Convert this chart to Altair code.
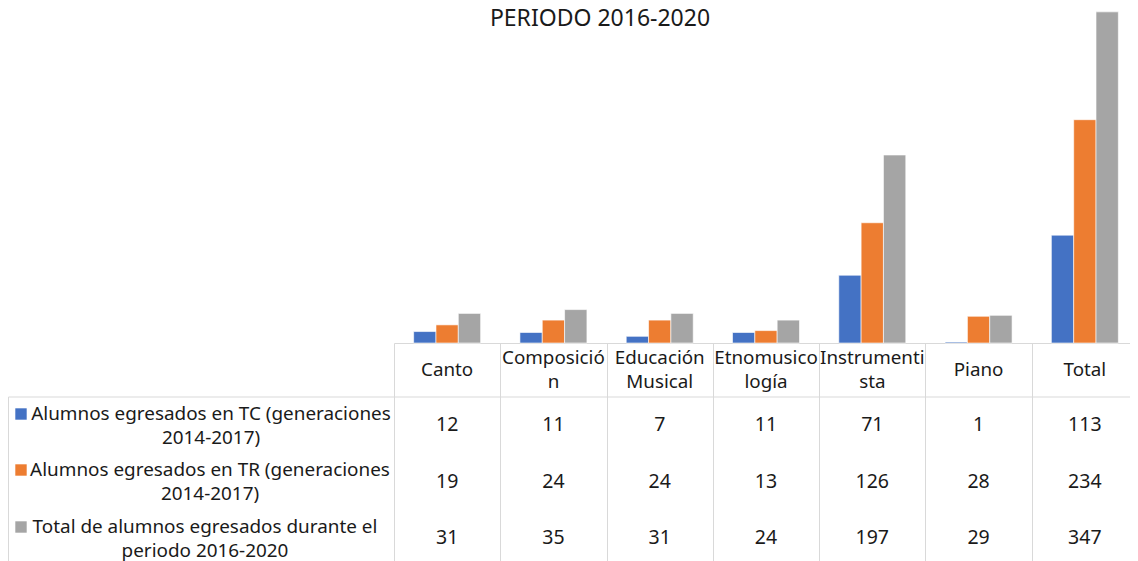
import altair as alt
import pandas as pd

categories = ["Canto", "Composición", "Educación Musical", "Etnomusicología",
              "Instrumentista", "Piano", "Total"]
header_labels = ["Canto", "Composició\nn", "Educación\nMusical", "Etnomusico\nlogía",
                 "Instrumenti\nsta", "Piano", "Total"]
series_names = [
    "Alumnos egresados en TC (generaciones 2014-2017)",
    "Alumnos egresados en TR (generaciones 2014-2017)",
    "Total de alumnos egresados durante el periodo 2016-2020",
]
legend_labels = [
    "Alumnos egresados en TC (generaciones\n2014-2017)",
    "Alumnos egresados en TR (generaciones\n2014-2017)",
    "Total de alumnos egresados durante el\nperiodo 2016-2020",
]
tc_values = [12, 11, 7, 11, 71, 1, 113]
tr_values = [19, 24, 24, 13, 126, 28, 234]
total_values = [31, 35, 31, 24, 197, 29, 347]
colors = ["#4472C4", "#ED7D31", "#A5A5A5"]
title_lines = ["ALUMNOS EGRESADOS POR CARRERA", "PERIODO 2016-2020"]

FONT = "Noto Sans"
FS = 19.5
FS_HDR = 18.8
FS_LEG = 18.9
TXT = "#1a1a1a"
GRID = "#d9d9d9"

rows = []
for s, vals in zip(series_names, [tc_values, tr_values, total_values]):
    for c, v in zip(categories, vals):
        rows.append({"category": c, "series": s, "value": v})
df = pd.DataFrame(rows)
hdr = pd.DataFrame({"category": categories, "label": header_labels})
hdr["multi"] = hdr["label"].str.contains("\n")

x_scale = alt.Scale(domain=categories, range=[0, 744], paddingInner=0, paddingOuter=0)
x_enc = alt.X("category:N", scale=x_scale, sort=categories,
              axis=alt.Axis(title=None, labels=False, tickBand="extent", tickSize=220,
                            tickColor=GRID, domainColor=GRID, grid=False, ticks=True))

bars = alt.Chart(df).mark_bar(stroke="white", strokeWidth=0.6).encode(
    x=x_enc,
    xOffset=alt.XOffset("series:N", sort=series_names,
                        scale=alt.Scale(domain=series_names, paddingInner=0, paddingOuter=0.88)),
    y=alt.Y("value:Q", scale=alt.Scale(domain=[0, 350], nice=False, zero=True), axis=None),
    color=alt.Color("series:N", scale=alt.Scale(domain=series_names, range=colors), legend=None),
)

layers = [bars]

# header labels (first line placed at y; two-line labels start higher)
for multi, yv in [(False, 361), (True, 349)]:
    layers.append(alt.Chart(hdr[hdr["multi"] == multi][["category", "label"]]).mark_text(
        font=FONT, fontSize=FS_HDR, color=TXT, lineBreak="\n", baseline="middle", lineHeight=24).encode(
        x=alt.X("category:N", scale=x_scale, sort=categories),
        y=alt.value(yv),
        text="label:N",
    ))

row_y = [416, 473, 529]
leg_y = [405, 461, 518]
leg_x = [-183, -184, -189]
for i, s in enumerate(series_names):
    layers.append(alt.Chart(df).transform_filter(alt.datum.series == s).mark_text(
        font=FONT, fontSize=FS, color=TXT, baseline="middle").encode(
        x=alt.X("category:N", scale=x_scale, sort=categories),
        y=alt.value(row_y[i]),
        text="value:Q",
    ))
    ld = pd.DataFrame({"label": [legend_labels[i]]})
    layers.append(alt.Chart(ld).mark_text(font=FONT, fontSize=FS_LEG, color=TXT, lineBreak="\n",
                                          baseline="middle", lineHeight=23.5, align="center").encode(
        x=alt.value(leg_x[i]), y=alt.value(leg_y[i]), text="label:N"))
    layers.append(alt.Chart(ld).mark_square(size=130, filled=True, opacity=1, color=colors[i]).encode(
        x=alt.value(-373), y=alt.value(leg_y[i])))

# table borders of the legend column
one = pd.DataFrame({"a": [0]})
layers.append(alt.Chart(one).mark_rule(color=GRID, strokeWidth=1).encode(
    x=alt.value(-385.5), x2=alt.value(744), y=alt.value(388)))
layers.append(alt.Chart(one).mark_rule(color=GRID, strokeWidth=1).encode(
    x=alt.value(-385.5), y=alt.value(388), y2=alt.value(570)))

# title (first line is cut off at the top, as in the source image)
layers.append(alt.Chart(pd.DataFrame({"t": [title_lines[0]]})).mark_text(
    font=FONT, fontSize=23, color=TXT, baseline="middle").encode(
    x=alt.value(206), y=alt.value(-16), text="t:N"))
layers.append(alt.Chart(pd.DataFrame({"t": [title_lines[1]]})).mark_text(
    font=FONT, fontSize=23, color=TXT, baseline="middle").encode(
    x=alt.value(206), y=alt.value(10), text="t:N"))

chart = alt.layer(*layers).properties(
    width=736, height=334,
    autosize=alt.AutoSizeParams(type="none"),
    padding={"left": 386, "top": 1, "right": 0, "bottom": 218},
).configure_view(stroke=None)

chart.save("out.html", embed_options={"renderer": "svg", "actions": False})
